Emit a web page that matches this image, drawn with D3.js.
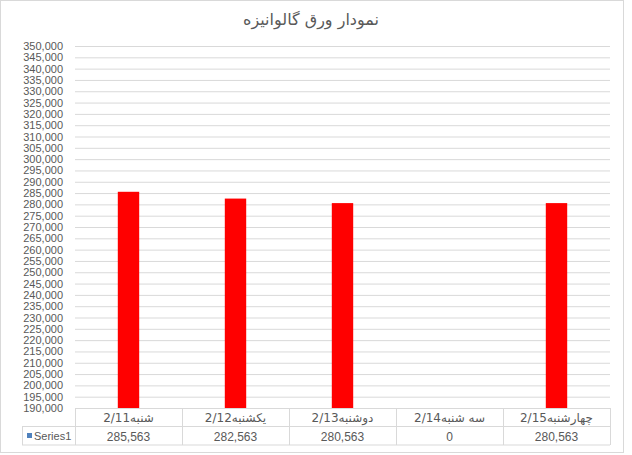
<!DOCTYPE html>
<html>
<head>
<meta charset="utf-8">
<script src="https://cdn.jsdelivr.net/npm/d3@7"></script>
<style>
    body { margin: 0; background: #fff; }
    #chart { width: 632px; height: 455px; }
    text { font-family: "Liberation Sans", "DejaVu Sans", sans-serif; fill: #595959; }
</style>
</head>
<body>
<div id="chart"></div>
<script>
// chart data
let chartTitle = "نمودار ورق گالوانیزه";
let categories = ["2/11شنبه", "2/12یکشنبه", "2/13دوشنبه", "2/14سه شنبه", "2/15چهارشنبه"];
let seriesName = "Series1";
let values = [285563, 282563, 280563, 0, 280563];
let yTicks = d3.range(190000, 350001, 5000);

class BarVis {

    constructor(parentElement) {
        this.parentElement = parentElement;
        this.initVis();
    }

    initVis() {
        let vis = this;
        vis.margin = {top: 46, right: 22, bottom: 47, left: 75};
        vis.fullW = 632;
        vis.fullH = 455;
        vis.width = 610 - vis.margin.left;
        vis.height = 408 - vis.margin.top;

        vis.root = d3.select("#" + vis.parentElement).append("svg")
            .attr("width", vis.fullW)
            .attr("height", vis.fullH);

        // chart border
        vis.root.append("rect")
            .attr("x", 0.5).attr("y", 0.5)
            .attr("width", 623).attr("height", 452)
            .attr("fill", "#fff")
            .attr("stroke", "#d9d9d9");

        vis.root.append("text")
            .attr("x", 311).attr("y", 25)
            .attr("text-anchor", "middle")
            .style("font-family", "'DejaVu Sans', sans-serif")
            .style("font-size", "16px")
            .text(chartTitle);

        vis.svg = vis.root.append("g")
            .attr("transform", `translate(${vis.margin.left}, ${vis.margin.top})`);

        vis.yScale = d3.scaleLinear()
            .domain([190000, 350000])
            .range([vis.height, 0]);

        vis.xScale = d3.scaleBand()
            .domain(categories)
            .range([0, vis.width]);

        vis.yAxis = d3.axisLeft(vis.yScale)
            .tickValues(yTicks)
            .tickSize(-vis.width)
            .tickPadding(12)
            .tickFormat(d3.format(","));

        vis.svg.append("g")
            .attr("class", "yAxis")
            .call(vis.yAxis)
            .call(g => g.select(".domain").remove())
            .call(g => g.selectAll("line").attr("stroke", "#d9d9d9"))
            .call(g => g.selectAll("text")
                .style("font-size", "11px")
                .attr("fill", "#595959"));

        vis.updateVis();
    }

    updateVis() {
        let vis = this;
        let bw = vis.xScale.bandwidth() * 0.2;
        let rows = categories.map((c, i) => ({cat: c, val: values[i]}));

        // bars (values under the axis minimum stay hidden)
        vis.svg.selectAll(".myrect")
            .data(rows.filter(d => d.val > vis.yScale.domain()[0]))
            .enter()
            .append("rect")
            .attr("class", "myrect")
            .attr("x", d => vis.xScale(d.cat) + (vis.xScale.bandwidth() - bw) / 2)
            .attr("y", d => vis.yScale(d.val))
            .attr("width", bw)
            .attr("height", d => vis.height - vis.yScale(d.val))
            .attr("fill", "#ff0000");

        // data table
        let rowH = 18.5;
        let t = vis.svg.append("g")
            .attr("transform", `translate(0, ${vis.height})`);
        let lc = "#d9d9d9";

        t.append("line").attr("x1", 0).attr("x2", vis.width).attr("y1", 0.5).attr("y2", 0.5).attr("stroke", lc);
        t.append("line").attr("x1", -53).attr("x2", vis.width).attr("y1", rowH).attr("y2", rowH).attr("stroke", lc);
        t.append("line").attr("x1", -53).attr("x2", vis.width).attr("y1", rowH * 2).attr("y2", rowH * 2).attr("stroke", lc);
        t.append("line").attr("x1", -52.5).attr("x2", -52.5).attr("y1", rowH).attr("y2", rowH * 2).attr("stroke", lc);

        let edges = categories.map(c => vis.xScale(c)).concat([vis.width]);
        t.selectAll(".vline")
            .data(edges)
            .enter()
            .append("line")
            .attr("class", "vline")
            .attr("x1", d => Math.round(d) + 0.5).attr("x2", d => Math.round(d) + 0.5)
            .attr("y1", 0).attr("y2", rowH * 2)
            .attr("stroke", lc);

        t.selectAll(".catlabel")
            .data(rows)
            .enter()
            .append("text")
            .attr("class", "catlabel")
            .attr("x", d => vis.xScale(d.cat) + vis.xScale.bandwidth() / 2)
            .attr("y", 14)
            .attr("text-anchor", "middle")
            .style("font-size", "12px")
            .style("font-family", "'DejaVu Sans', sans-serif")
            .style("direction", "ltr")
            .text(d => d.cat);

        t.selectAll(".vallabel")
            .data(rows)
            .enter()
            .append("text")
            .attr("class", "vallabel")
            .attr("x", d => vis.xScale(d.cat) + vis.xScale.bandwidth() / 2)
            .attr("y", rowH + 14)
            .attr("text-anchor", "middle")
            .style("font-size", "12px")
            .text(d => d3.format(",")(d.val));

        // legend key
        t.append("rect")
            .attr("x", -48).attr("y", rowH + 6.5)
            .attr("width", 5).attr("height", 5)
            .attr("fill", "#4f81bd");
        t.append("text")
            .attr("x", -41).attr("y", rowH + 13.5)
            .style("font-size", "11px")
            .text(seriesName);
    }
}

let myBarVis = new BarVis("chart");
</script>
</body>
</html>
